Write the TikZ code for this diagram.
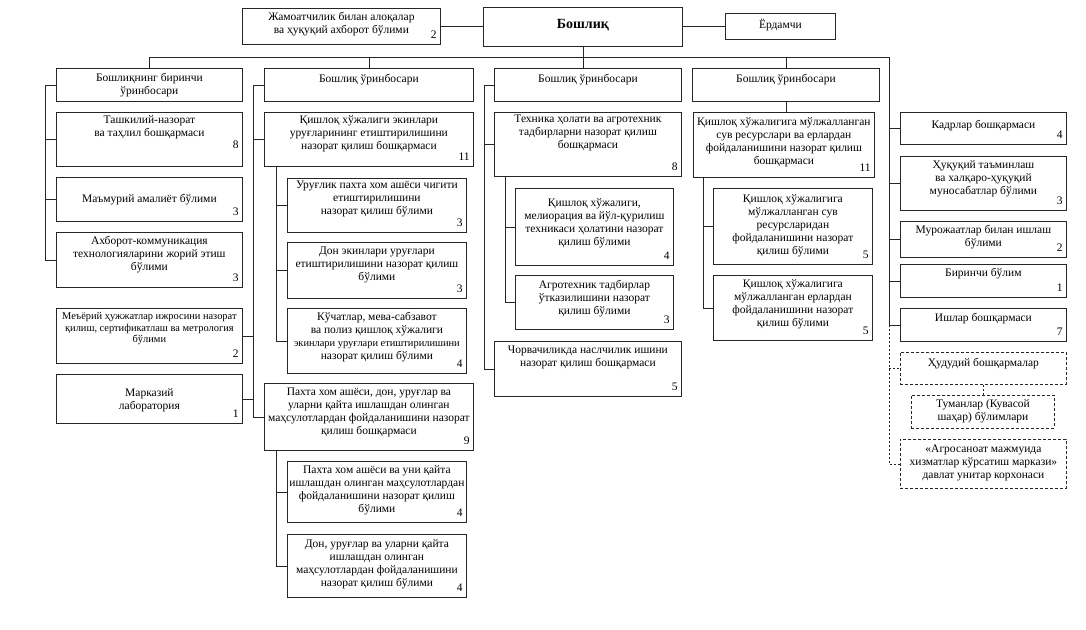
\documentclass[tikz,border=0pt]{standalone}
\usepackage{fontspec}
\setmainfont{Liberation Serif}
\newcommand\Bx[6]{\node[#6, minimum width=#4pt-#2pt, minimum height=#5pt-#3pt] (#1) at (#2,#3) {};}
\newcommand\Tx[3]{\node[txt] (#1-t) at ([yshift=-#2pt-2pt]#1.north) {#3};}
\newcommand\Nm[2]{\node[num] (#1-n) at (#1.south east) {#2};}
\begin{document}
\begin{tikzpicture}[x=1pt,y=-1pt,
  box/.style={draw=black!85, line width=0.8pt, rectangle, inner sep=0pt, anchor=north west},
  dbox/.style={box, dash pattern=on 3pt off 2pt},
  txt/.style={anchor=north, align=center, inner sep=0pt, font=\fontsize{11.5}{13}\selectfont},
  num/.style={anchor=south east, inner sep=0pt, font=\fontsize{11.5}{13}\selectfont, xshift=-4pt, yshift=6pt},
  ln/.style={draw=black!85, line width=0.8pt},
  dln/.style={ln, dash pattern=on 2pt off 2pt}]
\fill[white] (0,0) rectangle (1086,629);
\useasboundingbox (0,0) rectangle (1086,629);
% boxes
\Bx{jam}{242}{8}{440}{44}{box}
\Bx{boss}{483}{7}{682}{46}{box}
\Bx{yor}{725}{13}{835}{39}{box}
\Bx{dep1}{56}{68}{242}{101}{box}
\Bx{dep2}{264}{68}{473}{101}{box}
\Bx{dep3}{494}{68}{681}{101}{box}
\Bx{dep4}{692}{68}{879}{101}{box}
\Bx{tash}{56}{112}{242}{166}{box}
\Bx{mamur}{56}{177}{242}{221}{box}
\Bx{axb}{56}{232}{242}{287}{box}
\Bx{meyo}{56}{308}{242}{363}{box}
\Bx{mark}{56}{374}{242}{423}{box}
\Bx{qish}{264}{112}{473}{166}{box}
\Bx{urug}{287}{178}{466}{232}{box}
\Bx{don}{287}{242}{466}{298}{box}
\Bx{kochat}{287}{308}{466}{373}{box}
\Bx{paxta}{264}{383}{473}{450}{box}
\Bx{pxs1}{287}{461}{466}{522}{box}
\Bx{pxs2}{287}{534}{466}{597}{box}
\Bx{tex}{494}{112}{681}{176}{box}
\Bx{mel}{515}{188}{673}{265}{box}
\Bx{agro}{515}{275}{673}{329}{box}
\Bx{chorva}{494}{341}{681}{396}{box}
\Bx{water}{693}{112}{874}{177}{box}
\Bx{suv}{713}{188}{872}{264}{box}
\Bx{yer}{713}{275}{872}{340}{box}
\Bx{kadr}{900}{112}{1066}{144}{box}
\Bx{huq}{900}{156}{1066}{210}{box}
\Bx{mur}{900}{221}{1066}{257}{box}
\Bx{bir}{900}{264}{1066}{297}{box}
\Bx{ish}{900}{308}{1066}{341}{box}
\Bx{hud}{900}{352}{1066}{384}{dbox}
\Bx{tum}{911}{395}{1054}{428}{dbox}
\Bx{agros}{900}{439}{1066}{488}{dbox}
% texts
\Tx{jam}{2}{Жамоатчилик билан алоқалар\\ва ҳуқуқий ахборот бўлими}\Nm{jam}{2}
\node[font=\fontsize{14}{16}\selectfont\bfseries] (boss-t) at ([yshift=2pt]boss.center) {Бошлиқ};
\node[txt, anchor=center] (yor-t) at ([yshift=1pt]yor.center) {Ёрдамчи};
\Tx{dep1}{3}{Бошлиқнинг биринчи\\ўринбосари}
\Tx{dep2}{4}{Бошлиқ ўринбосари}
\Tx{dep3}{4}{Бошлиқ ўринбосари}
\Tx{dep4}{4}{Бошлиқ ўринбосари}
\Tx{tash}{1}{Ташкилий-назорат\\ва таҳлил бошқармаси}
\node[num, yshift=12pt] (tash-n) at (tash.south east) {8};
\Tx{mamur}{15}{Маъмурий амалиёт бўлими}\Nm{mamur}{3}
\Tx{axb}{2}{Ахборот-коммуникация\\технологияларини жорий этиш\\бўлими}\Nm{axb}{3}
\node[txt, font=\fontsize{10.4}{11.8}\selectfont] (meyo-t) at ([yshift=-4pt]meyo.north) {Меъёрий ҳужжатлар ижросини назорат\\қилиш, сертификатлаш ва метрология\\бўлими};\Nm{meyo}{2}
\Tx{mark}{12}{Марказий\\лаборатория}\Nm{mark}{1}
\Tx{qish}{1}{Қишлоқ хўжалиги экинлари\\уруғларининг етиштирилишини\\назорат қилиш бошқармаси}\Nm{qish}{11}
\Tx{urug}{1}{Уруғлик пахта хом ашёси чигити\\етиштирилишини\\назорат қилиш бўлими}\Nm{urug}{3}
\Tx{don}{3}{Дон экинлари уруғлари\\етиштирилишини назорат қилиш\\бўлими}\Nm{don}{3}
\Tx{kochat}{2}{Кўчатлар, мева-сабзавот\\ва полиз қишлоқ хўжалиги\\{\fontsize{10.4}{13}\selectfont экинлари уруғлари етиштирилишини}\\назорат қилиш бўлими}\Nm{kochat}{4}
\Tx{paxta}{3}{Пахта хом ашёси, дон, уруғлар ва\\уларни қайта ишлашдан олинган\\маҳсулотлардан фойдаланишини назорат\\қилиш бошқармаси}\Nm{paxta}{9}
\Tx{pxs1}{2}{Пахта хом ашёси ва уни қайта\\ишлашдан олинган маҳсулотлардан\\фойдаланишини назорат қилиш\\бўлими}\Nm{pxs1}{4}
\Tx{pxs2}{3}{Дон, уруғлар ва уларни қайта\\ишлашдан олинган\\маҳсулотлардан фойдаланишини\\назорат қилиш бўлими}\Nm{pxs2}{4}
\Tx{tex}{1}{Техника ҳолати ва агротехник\\тадбирларни назорат қилиш\\бошқармаси}\Nm{tex}{8}
\Tx{mel}{8}{Қишлоқ хўжалиги,\\мелиорация ва йўл-қурилиш\\техникаси ҳолатини назорат\\қилиш бўлими}\Nm{mel}{4}
\Tx{agro}{3}{Агротехник тадбирлар\\ўтказилишини назорат\\қилиш бўлими}\Nm{agro}{3}
\Tx{chorva}{3}{Чорвачиликда наслчилик ишини\\назорат қилиш бошқармаси}\Nm{chorva}{5}
\Tx{water}{3}{Қишлоқ хўжалигига мўлжалланган\\сув ресурслари ва ерлардан\\фойдаланишини назорат қилиш\\бошқармаси}\Nm{water}{11}
\Tx{suv}{4}{Қишлоқ хўжалигига\\мўлжалланган сув\\ресурсларидан\\фойдаланишини назорат\\қилиш бўлими}\Nm{suv}{5}
\Tx{yer}{2}{Қишлоқ хўжалигига\\мўлжалланган ерлардан\\фойдаланишини назорат\\қилиш бўлими}\Nm{yer}{5}
\Tx{kadr}{6}{Кадрлар бошқармаси}\Nm{kadr}{4}
\Tx{huq}{2}{Ҳуқуқий таъминлаш\\ва халқаро-ҳуқуқий\\муносабатлар бўлими}\Nm{huq}{3}
\Tx{mur}{2}{Мурожаатлар билан ишлаш\\бўлими}\Nm{mur}{2}
\Tx{bir}{2}{Биринчи бўлим}\Nm{bir}{1}
\Tx{ish}{3}{Ишлар бошқармаси}\Nm{ish}{7}
\Tx{hud}{4}{Ҳудудий бошқармалар}
\Tx{tum}{2}{Туманлар (Кувасой\\шаҳар) бўлимлари}
\Tx{agros}{4}{«Агросаноат мажмуида\\хизматлар кўрсатиш маркази»\\давлат унитар корхонаси}
% connectors
\coordinate (busR) at (889,57);
\coordinate (s1) at (45,0);
\coordinate (s2) at (253,0);
\coordinate (s2b) at (276,0);
\coordinate (s3) at (484,0);
\coordinate (s3b) at (505,0);
\coordinate (s4b) at (703,0);
\draw[ln] (jam.east) -- (jam.east -| boss.west);
\draw[ln] (boss.east |- yor.west) -- (yor.west);
\draw[ln] (boss.south) -- (boss.south |- dep3.north);
\draw[ln] (dep1.north) |- (busR) |- (ish.west);
\foreach \n in {dep2,dep4} \draw[ln] (\n.north) -- (\n.north |- busR);
\foreach \n in {kadr,huq,mur,bir} \draw[ln] (\n.west -| busR) -- (\n.west);
\draw[dln] (ish.west -| busR) |- (agros.west);
\draw[dln] (hud.west -| busR) -- (hud.west);
\draw[dln] (hud.south) -- (hud.south |- tum.north);
% column 1
\draw[ln] (dep1.west) -| (s1 |- axb.west) -- (axb.west);
\foreach \n in {tash,mamur} \draw[ln] (s1 |- \n.west) -- (\n.west);
% column 2
\draw[ln] (dep2.west) -| (s2 |- paxta.west) -- (paxta.west);
\draw[ln] (s2 |- qish.west) -- (qish.west);
\foreach \n in {meyo,mark} \draw[ln] (\n.east) -- (\n.east -| s2);
\draw[ln] (s2b |- qish.south) |- (kochat.west);
\foreach \n in {urug,don} \draw[ln] (s2b |- \n.west) -- (\n.west);
\draw[ln] (s2b |- paxta.south) |- (pxs2.west);
\draw[ln] (s2b |- pxs1.west) -- (pxs1.west);
% column 3
\draw[ln] (dep3.west) -| (s3 |- chorva.west) -- (chorva.west);
\draw[ln] (s3 |- tex.west) -- (tex.west);
\draw[ln] (s3b |- tex.south) |- (agro.west);
\draw[ln] (s3b |- mel.west) -- (mel.west);
% column 4
\draw[ln] (dep4.south) -- (dep4.south |- water.north);
\draw[ln] (s4b |- water.south) |- (yer.west);
\draw[ln] (s4b |- suv.west) -- (suv.west);
\end{tikzpicture}
\end{document}
